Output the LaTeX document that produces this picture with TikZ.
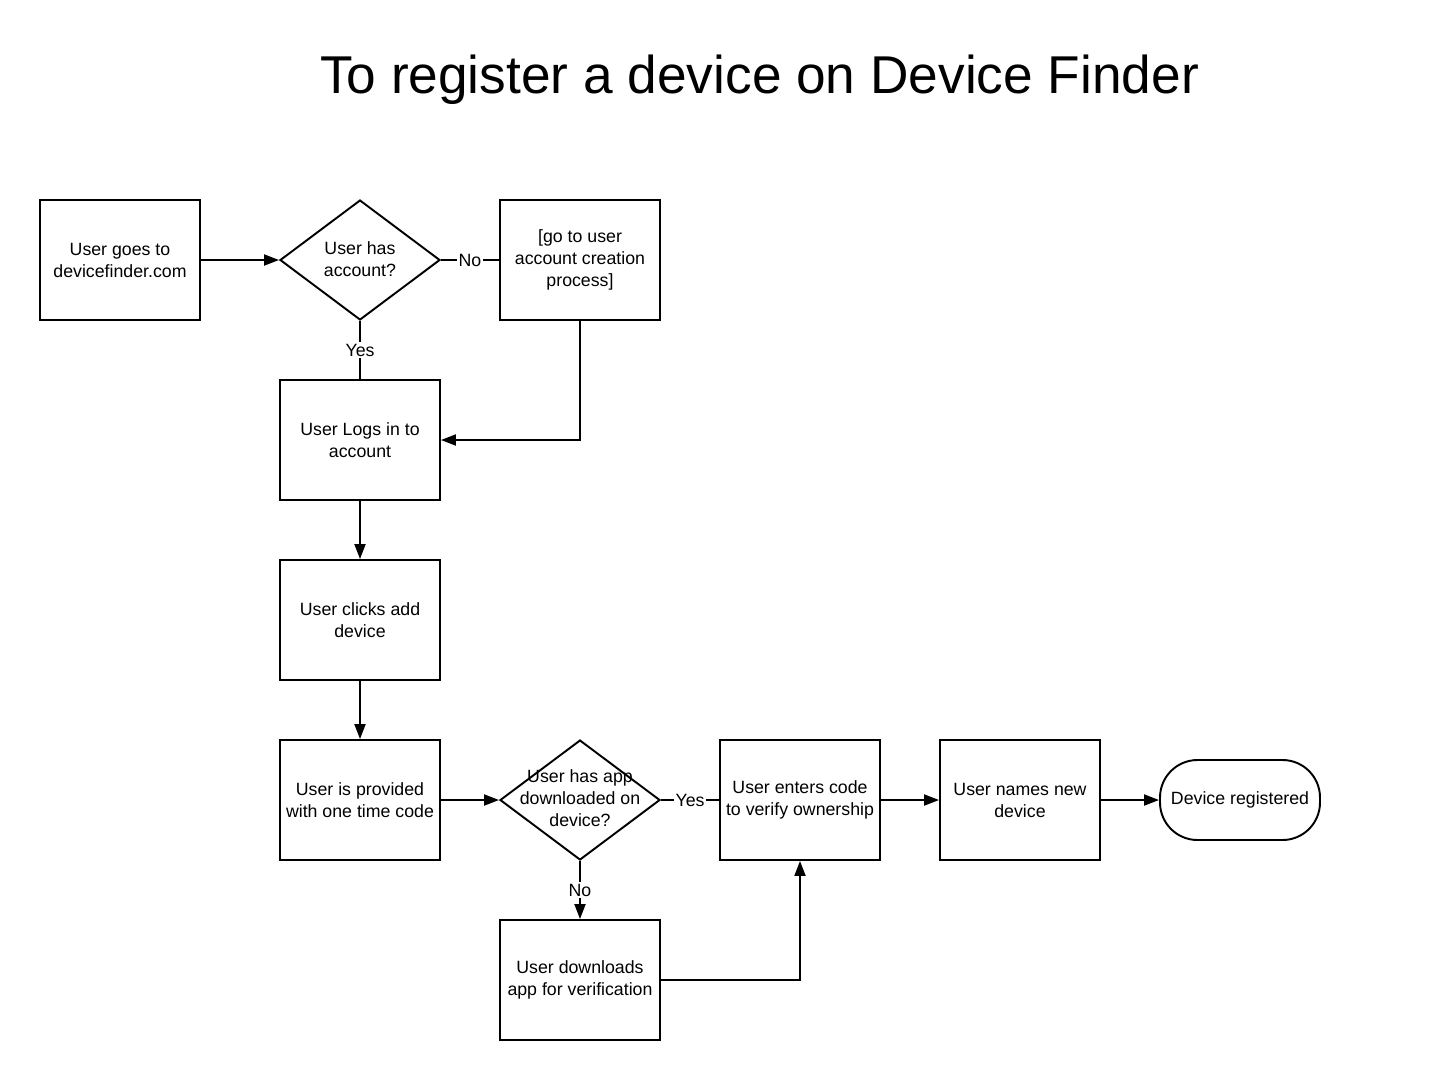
\documentclass[tikz,border=0pt]{standalone}
\usepackage{fontspec}
\setmainfont{Liberation Sans}
\usetikzlibrary{shapes.geometric,arrows.meta}

\begin{document}
\begin{tikzpicture}[x=0.02cm, y=-0.02cm,
    every node/.style={font=\fontsize{10.1}{12.5}\selectfont},
    stepbox/.style={draw, line width=1.1pt, minimum width=3.2cm, minimum height=2.4cm, align=center, inner sep=1pt},
    decision/.style={draw, line width=1.1pt, diamond, aspect=1.333, minimum width=3.2cm, minimum height=2.4cm, inner sep=0pt},
    terminal/.style={draw, line width=1.1pt, rounded corners=0.75cm, minimum width=3.2cm, minimum height=1.6cm, align=center},
    flow/.style={line width=1.1pt, -{Triangle[length=0.3cm, width=0.22cm]}},
    link/.style={line width=1.1pt},
    tag/.style={fill=white, inner sep=1pt}]
    \useasboundingbox (0,0) rectangle (1440,1080);

    % Title
    \node[anchor=base, font=\fontsize{30.3}{36}\selectfont] (title) at (759.5, 93) {To register a device on Device Finder};

    % Top row
    \node[stepbox] (site) at (120, 260) {User goes to\\devicefinder.com};
    \node[decision] (hasacct) at (360, 260) {};
    \node[align=center] (hasacctlbl) at (360, 259) {User has\\account?};
    \node[stepbox] (create) at (580, 260) {[go to user\\account creation\\process]};

    % Middle column
    \node[stepbox] (login) at (360, 440) {User Logs in to\\account};
    \node[stepbox] (adddev) at (360, 620) {User clicks add\\device};
    \node[stepbox] (code) at (360, 800) {User is provided\\with one time code};

    % Bottom row
    \node[decision] (hasapp) at (580, 800) {};
    \node[align=center] (hasapplbl) at (580, 798) {User has app\\downloaded on\\device?};
    \node[stepbox] (enter) at (800, 800) {User enters code\\to verify ownership};
    \node[stepbox] (name) at (1020, 800) {User names new\\device};
    \node[terminal] (done) at (1240, 800) {Device registered};
    \node[stepbox] (download) at (580, 980) {User downloads\\app for verification};

    % Connectors
    \draw[flow] (site) -- (hasacct);
    \draw[link] (hasacct) -- node[tag] {No} (create);
    \draw[link] (hasacct) -- node[tag] {Yes} (login);
    \draw[flow] (create.south) |- (login.east);
    \draw[flow] (login) -- (adddev);
    \draw[flow] (adddev) -- (code);
    \draw[flow] (code) -- (hasapp);
    \draw[link] (hasapp) -- node[tag] {Yes} (enter);
    \draw[flow] (hasapp) -- node[tag] {No} (download);
    \draw[flow] (download.east) -| (enter.south);
    \draw[flow] (enter) -- (name);
    \draw[flow] (name) -- (done);
\end{tikzpicture}
\end{document}
